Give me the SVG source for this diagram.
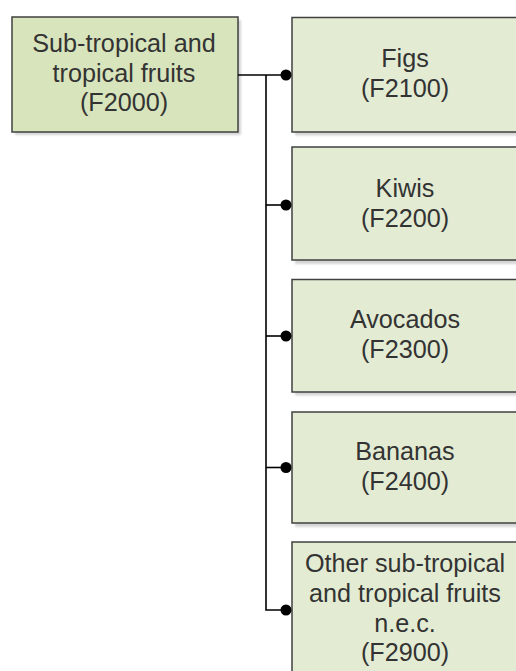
<svg xmlns="http://www.w3.org/2000/svg" width="516" height="671" viewBox="0 0 516 671">
  <style>
    .shadow { fill: #d4d4d4; }
    .parent { fill: #d8e4bc; stroke: #404040; stroke-width: 1.5; }
    .child { fill: #e3ecd3; stroke: #404040; stroke-width: 1.5; }
    .label { font-family: "Liberation Sans", Arial, sans-serif; font-size: 25.2px; fill: #333333; text-anchor: middle; }
    .wire { fill: none; stroke: #000000; stroke-width: 1.6; }
    .dot { fill: #000000; }
  </style>
  <defs>
    <filter id="soft" x="-5%" y="-5%" width="110%" height="110%">
      <feGaussianBlur stdDeviation="1"/>
    </filter>
  </defs>

  <rect width="516" height="671" fill="#ffffff"/>

  <!-- parent category -->
  <g id="node-f2000">
    <rect class="shadow" x="15" y="20" width="226" height="115" filter="url(#soft)"/>
    <rect class="parent" x="12" y="17" width="226" height="115"/>
    <text class="label" x="124" y="52">Sub-tropical and</text>
    <text class="label" x="124" y="81.5">tropical fruits</text>
    <text class="label" x="124" y="111">(F2000)</text>
  </g>

  <!-- child categories -->
  <g id="node-f2100">
    <rect class="shadow" x="295" y="20.5" width="226" height="115" filter="url(#soft)"/>
    <rect class="child" x="292" y="17.5" width="226" height="114.5"/>
    <text class="label" x="405" y="67">Figs</text>
    <text class="label" x="405" y="97">(F2100)</text>
  </g>

  <g id="node-f2200">
    <rect class="shadow" x="295" y="150" width="226" height="114" filter="url(#soft)"/>
    <rect class="child" x="292" y="147" width="226" height="113"/>
    <text class="label" x="405" y="197">Kiwis</text>
    <text class="label" x="405" y="227">(F2200)</text>
  </g>

  <g id="node-f2300">
    <rect class="shadow" x="295" y="282.5" width="226" height="113" filter="url(#soft)"/>
    <rect class="child" x="292" y="279.5" width="226" height="112.5"/>
    <text class="label" x="405" y="328">Avocados</text>
    <text class="label" x="405" y="358">(F2300)</text>
  </g>

  <g id="node-f2400">
    <rect class="shadow" x="295" y="415" width="226" height="112" filter="url(#soft)"/>
    <rect class="child" x="292" y="412" width="226" height="111"/>
    <text class="label" x="405" y="459.5">Bananas</text>
    <text class="label" x="405" y="489.5">(F2400)</text>
  </g>

  <g id="node-f2900">
    <rect class="shadow" x="295" y="545" width="226" height="136" filter="url(#soft)"/>
    <rect class="child" x="292" y="542" width="226" height="136"/>
    <text class="label" x="405" y="572">Other sub-tropical</text>
    <text class="label" x="405" y="602">and tropical fruits</text>
    <text class="label" x="405" y="632">n.e.c.</text>
    <text class="label" x="405" y="661">(F2900)</text>
  </g>

  <!-- tree connectors -->
  <g id="connectors">
    <path class="wire" d="M238,75 H286"/>
    <path class="wire" d="M266,75 V610 H286"/>
    <path class="wire" d="M266,205 H286"/>
    <path class="wire" d="M266,336 H286"/>
    <path class="wire" d="M266,467.5 H286"/>
    <circle class="dot" cx="286" cy="75" r="5.5"/>
    <circle class="dot" cx="286" cy="205" r="5.5"/>
    <circle class="dot" cx="286" cy="336" r="5.5"/>
    <circle class="dot" cx="286" cy="467.5" r="5.5"/>
    <circle class="dot" cx="286" cy="610" r="5.5"/>
  </g>
</svg>
